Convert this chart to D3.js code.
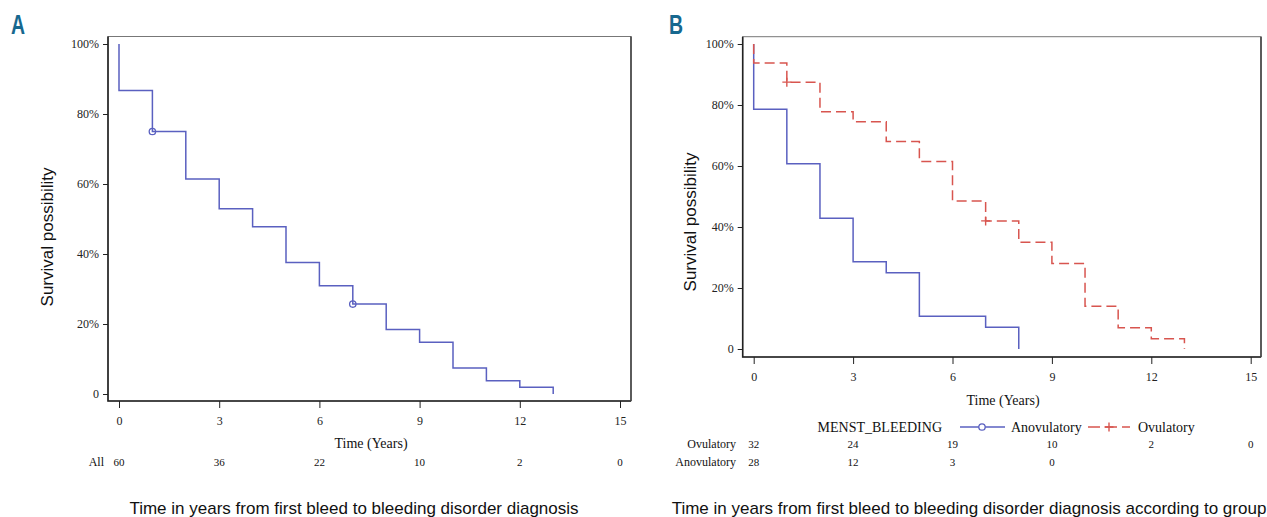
<!DOCTYPE html>
<html>
<head>
<meta charset="utf-8">
<script src="https://cdn.jsdelivr.net/npm/d3@7"></script>
<style>
  body { margin: 0; background: #fff; }
  .tick text { font-family: "Liberation Serif", "Times New Roman", serif; font-size: 12px; fill: #222; }
  .tick line { stroke: #222; }
</style>
</head>
<body>
<div id="chart"></div>
<script>
// panel A: all patients
var timesA = [0, 0, 1, 2, 3, 4, 5, 6, 7, 8, 9, 10, 11, 12, 13];
var survA  = [1, 0.867, 0.75, 0.614, 0.529, 0.478, 0.376, 0.309, 0.257, 0.184, 0.148, 0.074, 0.038, 0.019, 0];
var censorA = [[1, 0.75], [7, 0.257]];
var riskTimesA = [0, 3, 6, 9, 12, 15];
var riskAll = [60, 36, 22, 10, 2, 0];

// panel B: by group
var timesAnov = [0, 0, 1, 2, 3, 4, 5, 7, 8];
var survAnov  = [1, 0.786, 0.607, 0.429, 0.286, 0.25, 0.107, 0.071, 0];
var timesOvu  = [0, 0, 1, 2, 3, 4, 5, 6, 7, 8, 9, 10, 11, 12, 13];
var survOvu   = [1, 0.9375, 0.875, 0.778, 0.745, 0.68, 0.615, 0.485, 0.42, 0.35, 0.28, 0.14, 0.07, 0.034, 0];
var censorOvu = [[1, 0.875], [7, 0.42]];
var riskOvu  = [32, 24, 19, 10, 2, 0];
var riskAnov = [28, 12, 3, 0];

var xTicks = [0, 3, 6, 9, 12, 15];
var yTicks = [0, 0.2, 0.4, 0.6, 0.8, 1];

var blue = "#5a60c0", red = "#d8554f", letterColor = "#17688f";

var svg = d3.select("#chart").append("svg")
    .attr("width", 1267)
    .attr("height", 517);

function pct(d) { return d === 0 ? "0" : Math.round(d * 100) + "%"; }

function makePanel(p) {
    var x = d3.scaleLinear().domain([0, 15]).range([p.x0, p.x1]);
    var y = d3.scaleLinear().domain([0, 1]).range([p.y0, p.y1]);

    // frame
    svg.append("rect")
        .attr("x", p.fx0).attr("y", p.fy0)
        .attr("width", p.fx1 - p.fx0).attr("height", p.fy1 - p.fy0)
        .attr("fill", "none").attr("stroke", "#777").attr("stroke-width", 1);
    svg.append("path")
        .attr("d", "M" + p.fx0 + "," + p.fy0 + "V" + p.fy1 + "H" + p.fx1)
        .attr("fill", "none").attr("stroke", "#222").attr("stroke-width", 1.6);
    svg.append("line")
        .attr("x1", p.fx1).attr("x2", p.fx1).attr("y1", p.fy0).attr("y2", p.fy1)
        .attr("stroke", "#444").attr("stroke-width", 1.6);

    var yAxis = d3.axisLeft(y).tickValues(yTicks).tickFormat(pct).tickSize(5).tickPadding(4);
    svg.append("g")
        .attr("transform", "translate(" + p.fx0 + ",0)")
        .call(yAxis)
        .call(function(g) { g.select(".domain").remove(); });

    var xAxis = d3.axisBottom(x).tickValues(xTicks).tickFormat(d3.format("d")).tickSize(7).tickPadding(8);
    svg.append("g")
        .attr("transform", "translate(0," + p.fy1 + ")")
        .call(xAxis)
        .call(function(g) { g.select(".domain").remove(); });

    svg.append("text")
        .attr("transform", "translate(" + p.ylabX + "," + p.ylabY + ") rotate(-90)")
        .attr("text-anchor", "middle")
        .style("font-family", "Liberation Sans, Arial, sans-serif")
        .style("font-size", "17px")
        .attr("fill", "#111")
        .text("Survival possibility");

    svg.append("text")
        .attr("x", p.xlabX).attr("y", p.xlabY)
        .attr("text-anchor", "middle")
        .style("font-family", "Liberation Serif, Times New Roman, serif")
        .style("font-size", "14px")
        .attr("fill", "#111")
        .text("Time (Years)");

    svg.append("text")
        .attr("x", p.capX).attr("y", 514)
        .attr("text-anchor", "middle")
        .style("font-family", "Liberation Sans, Arial, sans-serif")
        .style("font-size", "17px")
        .attr("fill", "#111")
        .text(p.caption);

    svg.append("text")
        .attr("transform", "translate(" + p.letterX + ",34) scale(0.72,1)")
        .style("font-family", "Liberation Sans, Arial, sans-serif")
        .style("font-weight", "bold")
        .style("font-size", "27px")
        .attr("fill", letterColor)
        .text(p.letter);

    return {x: x, y: y};
}

function drawCurve(sc, times, surv, color, dash) {
    var pts = times.map(function(t, i) { return [t, surv[i]]; });
    var line = d3.line()
        .x(function(d) { return sc.x(d[0]); })
        .y(function(d) { return sc.y(d[1]); })
        .curve(d3.curveStepAfter);
    svg.append("path")
        .datum(pts)
        .attr("d", line)
        .attr("fill", "none")
        .attr("stroke", color)
        .attr("stroke-width", 1.5)
        .attr("stroke-dasharray", dash || null);
}

function riskRow(sc, times, vals, yPos, label, labelX) {
    svg.selectAll(null)
        .data(vals)
        .enter().append("text")
        .attr("x", function(d, i) { return sc.x(times[i]); })
        .attr("y", yPos)
        .attr("text-anchor", "middle")
        .style("font-family", "Liberation Serif, Times New Roman, serif")
        .style("font-size", "11px")
        .attr("fill", "#111")
        .text(function(d) { return d; });
    svg.append("text")
        .attr("x", labelX).attr("y", yPos)
        .attr("text-anchor", "end")
        .style("font-family", "Liberation Serif, Times New Roman, serif")
        .style("font-size", "12px")
        .attr("fill", "#111")
        .text(label);
}

// ---- panel A
var scA = makePanel({
    x0: 119, x1: 620, y0: 394, y1: 44,
    fx0: 108, fx1: 631, fy0: 36.5, fy1: 401,
    ylabX: 53, ylabY: 237, xlabX: 371, xlabY: 448,
    capX: 354, letter: "A", letterX: 11,
    caption: "Time in years from first bleed to bleeding disorder diagnosis"
});
drawCurve(scA, timesA, survA, blue);
svg.selectAll(null).data(censorA).enter().append("circle")
    .attr("cx", function(d) { return scA.x(d[0]); })
    .attr("cy", function(d) { return scA.y(d[1]); })
    .attr("r", 3.2)
    .attr("fill", "none").attr("stroke", blue).attr("stroke-width", 1.3);
riskRow(scA, riskTimesA, riskAll, 466, "All", 104);

// ---- panel B
var scB = makePanel({
    x0: 753.7, x1: 1250.7, y0: 349, y1: 44,
    fx0: 742.7, fx1: 1261, fy0: 36.7, fy1: 357,
    ylabX: 696, ylabY: 222, xlabX: 1003, xlabY: 405,
    capX: 969, letter: "B", letterX: 669,
    caption: "Time in years from first bleed to bleeding disorder diagnosis according to group"
});
drawCurve(scB, timesAnov, survAnov, blue);
drawCurve(scB, timesOvu, survOvu, red, "10,5");
svg.selectAll(null).data(censorOvu).enter().append("path")
    .attr("d", function(d) {
        var cx = scB.x(d[0]), cy = scB.y(d[1]);
        return "M" + (cx - 4.5) + "," + cy + "H" + (cx + 4.5) + "M" + cx + "," + (cy - 4.5) + "V" + (cy + 4.5);
    })
    .attr("stroke", red).attr("stroke-width", 1.4).attr("fill", "none");

riskRow(scB, xTicks, riskOvu, 448, "Ovulatory", 736);
riskRow(scB, xTicks.slice(0, riskAnov.length), riskAnov, 466, "Anovulatory", 736);

// legend
var legY = 427;
svg.append("text")
    .attr("x", 942).attr("y", legY + 5)
    .attr("text-anchor", "end")
    .style("font-family", "Liberation Serif, Times New Roman, serif")
    .style("font-size", "14px")
    .attr("fill", "#111")
    .text("MENST_BLEEDING");
svg.append("line").attr("x1", 960).attr("x2", 1005).attr("y1", legY).attr("y2", legY)
    .attr("stroke", blue).attr("stroke-width", 1.5);
svg.append("circle").attr("cx", 982).attr("cy", legY).attr("r", 3.2)
    .attr("fill", "#fff").attr("stroke", blue).attr("stroke-width", 1.3);
svg.append("text")
    .attr("x", 1011).attr("y", legY + 5)
    .style("font-family", "Liberation Serif, Times New Roman, serif")
    .style("font-size", "14px")
    .attr("fill", "#111")
    .text("Anovulatory");
svg.append("line").attr("x1", 1088).attr("x2", 1130).attr("y1", legY).attr("y2", legY)
    .attr("stroke", red).attr("stroke-width", 1.5).attr("stroke-dasharray", "12,5");
svg.append("path")
    .attr("d", "M1104.5," + legY + "H1113.5M1109," + (legY - 4.5) + "V" + (legY + 4.5))
    .attr("stroke", red).attr("stroke-width", 1.4);
svg.append("text")
    .attr("x", 1138).attr("y", legY + 5)
    .style("font-family", "Liberation Serif, Times New Roman, serif")
    .style("font-size", "14px")
    .attr("fill", "#111")
    .text("Ovulatory");
</script>
</body>
</html>
